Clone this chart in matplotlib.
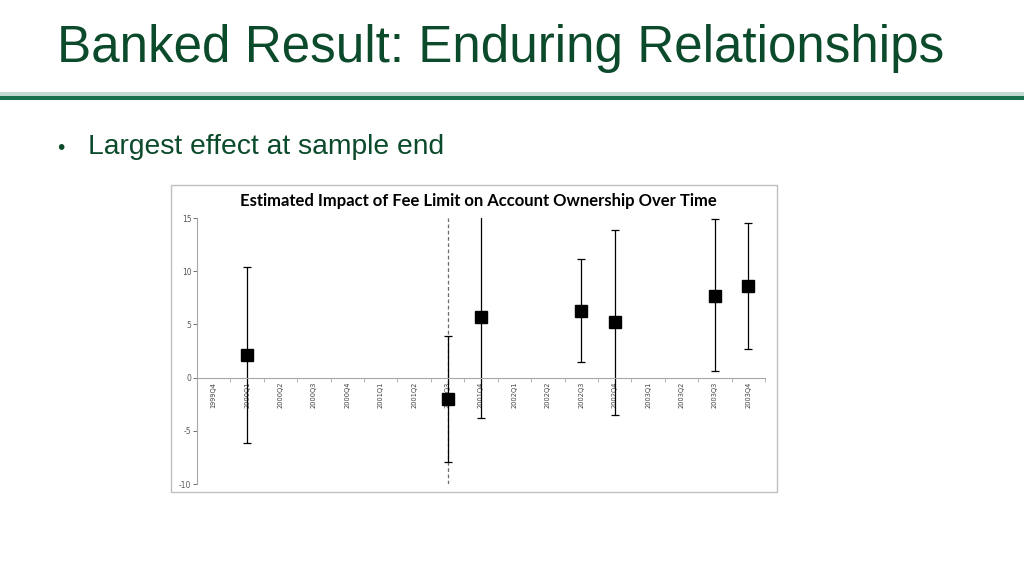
import numpy as np
import matplotlib.pyplot as plt
from matplotlib.patches import Rectangle
from matplotlib.ticker import FixedLocator

# quarters on the x axis
quarters = ['1999Q4', '2000Q1', '2000Q2', '2000Q3', '2000Q4', '2001Q1', '2001Q2', '2001Q3',
            '2001Q4', '2002Q1', '2002Q2', '2002Q3', '2002Q4', '2003Q1', '2003Q2', '2003Q3', '2003Q4']

# quarters that have an estimate (in %)
est_quarters = ['2000Q1', '2001Q3', '2001Q4', '2002Q3', '2002Q4', '2003Q3', '2003Q4']
estimate = [2.1, -2.05, 5.7, 6.3, 5.2, 7.7, 8.6]
ci_low = [-6.1, -7.95, -3.8, 1.5, -3.5, 0.6, 2.7]
ci_high = [10.4, 3.9, 16.0, 11.1, 13.9, 14.9, 14.5]

limit_quarter = '2001Q3'
y_ticks = [-10, -5, 0, 5, 10, 15]

green_dark = '#0B4A2A'

fig = plt.figure(figsize=(10.24, 5.76), dpi=100)

# slide header
fig.text(57/1024, 1-62/576, 'Banked Result: Enduring Relationships', fontsize=36.8,
         family='Liberation Sans', color=green_dark, va='baseline', ha='left')
fig.patches.append(Rectangle((0, 1-96/576), 1, 4/576, transform=fig.transFigure,
                             facecolor='#C3DCD2', edgecolor='none', zorder=-2))
fig.patches.append(Rectangle((0, 1-100/576), 1, 4/576, transform=fig.transFigure,
                             facecolor='#187250', edgecolor='none', zorder=-2))
fig.text(57/1024, 1-154/576, '•', fontsize=15, family='Liberation Sans', color=green_dark,
         va='baseline', ha='left')
fig.text(88/1024, 1-154/576, 'Largest effect at sample end', fontsize=20.3,
         family='Liberation Sans', color=green_dark, va='baseline', ha='left')

# chart frame
fig.patches.append(Rectangle((171/1024, 1-492/576), 606/1024, 307/576, transform=fig.transFigure,
                             facecolor='white', edgecolor='#BFBFBF', linewidth=1, zorder=-2))
fig.text(478/1024, 1-201/576, 'Estimated Impact of Fee Limit on Account Ownership Over Time',
         fontsize=12, fontweight='bold', family='Lato', ha='center', va='center', color='black')

ax = fig.add_axes([197/1024, 1-484/576, 568/1024, 266/576])
ax.set_facecolor('none')

x = [quarters.index(q) for q in est_quarters]
est = np.array(estimate)
yerr = [est - np.array(ci_low), np.array(ci_high) - est]

ax.axvline(quarters.index(limit_quarter), color='#6E6E6E', linestyle=(0, (3, 2)), linewidth=0.9, zorder=1)
ax.errorbar(x, est, yerr=yerr, fmt='none', ecolor='black', elinewidth=0.9,
            capsize=3, capthick=0.9, zorder=2)
ax.plot(x, est, linestyle='none', marker='s', markersize=8, color='black', zorder=3)

ax.set_xlim(-0.5, len(quarters) - 0.5)
ax.set_ylim(-10, 15)

for s in ['top', 'right']:
    ax.spines[s].set_visible(False)
ax.spines['left'].set_color('#A6A6A6')
ax.spines['bottom'].set_color('#A6A6A6')
ax.spines['bottom'].set_position(('data', 0))

ax.set_yticks(y_ticks)
ax.set_yticklabels([str(v) for v in y_ticks])
ax.tick_params(axis='y', labelsize=5.5, colors='#595959', length=3, width=0.6, pad=1)

ax.set_xticks(range(len(quarters)))
ax.set_xticklabels(quarters, rotation=90, va='top', ha='center')
ax.xaxis.set_minor_locator(FixedLocator(np.arange(-0.5, len(quarters), 1)))
ax.tick_params(axis='x', which='major', length=0, labelsize=4.8, labelcolor='#404040', pad=3)
ax.tick_params(axis='x', which='minor', length=3, width=0.6, color='#A6A6A6')

fig.savefig('out.png', dpi=100)
